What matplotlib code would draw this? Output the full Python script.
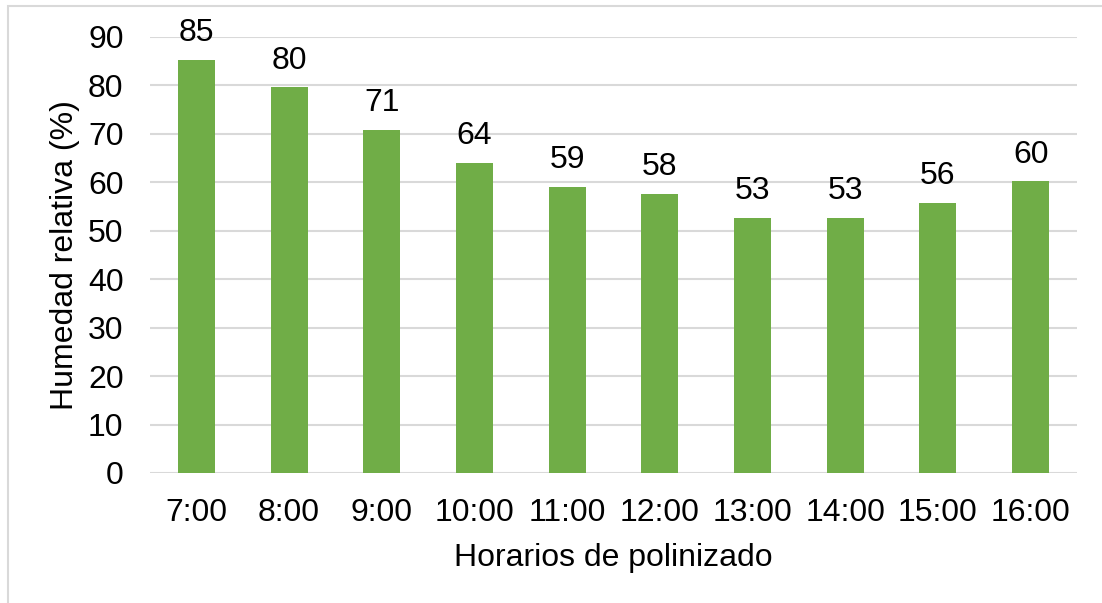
import matplotlib.pyplot as plt
from matplotlib.patches import Rectangle

plt.rcParams['font.family'] = ['Liberation Sans', 'DejaVu Sans']

# Humedad relativa promedio por horario
horarios = ['7:00', '8:00', '9:00', '10:00', '11:00', '12:00', '13:00', '14:00', '15:00', '16:00']
humedad = [85.3, 79.6, 70.9, 64.0, 59.1, 57.6, 52.7, 52.7, 55.8, 60.2]
ticks_y = [0, 10, 20, 30, 40, 50, 60, 70, 80, 90]

fs = 23

fig = plt.figure(figsize=(11.02, 6.03), dpi=100)
ax = fig.add_axes([150 / 1102, 1 - 473 / 603, (1077 - 150) / 1102, (473 - 37) / 603])

# Marco exterior del gráfico
fig.patches.append(Rectangle((8 / 1102, -0.05), 1.1, 1 - 6 / 603 + 0.05,
                             transform=fig.transFigure, fill=False,
                             edgecolor='#D9D9D9', linewidth=1.5))

x = range(len(horarios))
bars = ax.bar(x, humedad, width=0.4, color='#70AD47', zorder=3)
for b, v in zip(bars, humedad):
    ax.text(b.get_x() + b.get_width() / 2, v + 2.4, f'{v:.0f}',
            ha='center', va='bottom', fontsize=fs)

ax.set_xlim(-0.5, len(horarios) - 0.5)
ax.set_ylim(0, 90)
ax.set_yticks(ticks_y)
ax.set_xticks(list(x))
ax.set_xticklabels(horarios)
ax.tick_params(axis='both', length=0, labelsize=fs)
ax.tick_params(axis='y', pad=19)
ax.tick_params(axis='x', pad=18)
ax.grid(axis='y', color='#D9D9D9', linewidth=1.5, zorder=0)
ax.set_axisbelow(True)
for s in ax.spines.values():
    s.set_visible(False)

ax.set_xlabel('Horarios de polinizado', fontsize=fs, labelpad=11)
ax.set_ylabel('Humedad relativa (%)', fontsize=fs, labelpad=6)

fig.savefig('out.png', dpi=100)
